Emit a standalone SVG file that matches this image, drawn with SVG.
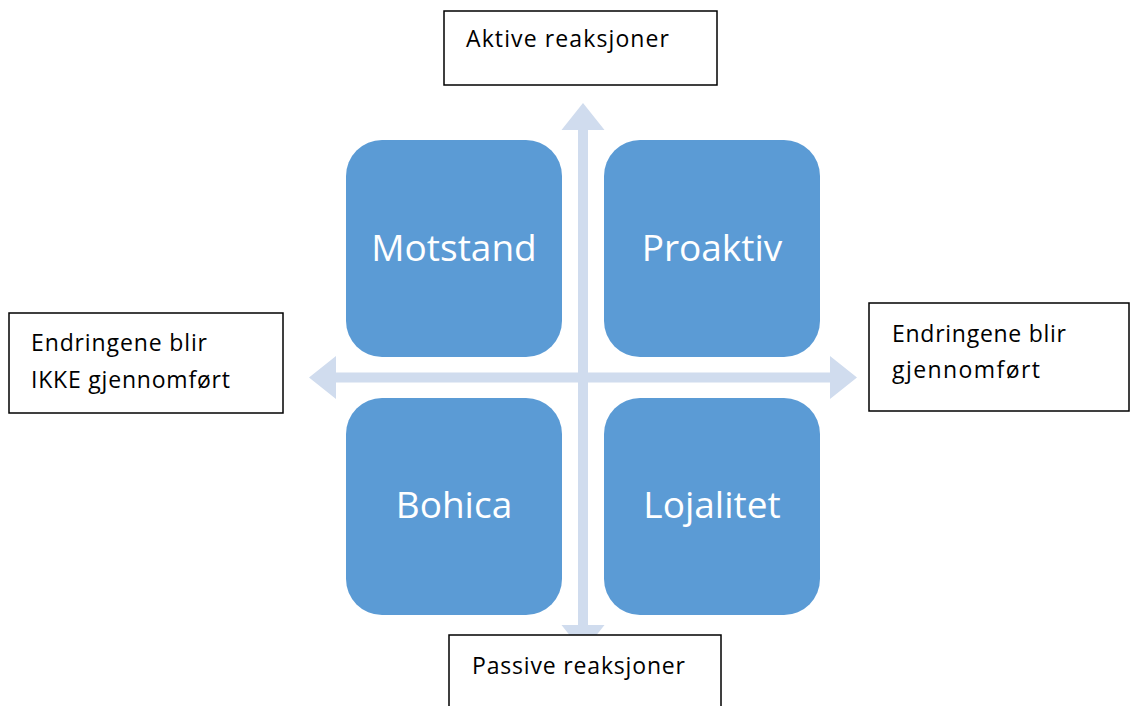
<svg xmlns="http://www.w3.org/2000/svg" width="1131" height="706" viewBox="0 0 1131 706">
  <style>
    .quad { fill: #5B9BD5; }
    .quad-label { font-family: "Open Sans", "Liberation Sans", sans-serif; font-size: 37px; fill: #FFFFFF; text-anchor: middle; }
    .note { fill: #FFFFFF; stroke: #000000; stroke-width: 1.5; }
    .note-text { font-family: "Open Sans", "Liberation Sans", sans-serif; font-size: 23px; fill: #000000; }
    .axis { fill: #D0DCEE; }
  </style>
  <rect width="1131" height="706" fill="#FFFFFF"/>

  <!-- Axes: a double-headed vertical and horizontal arrow crossing at the centre -->
  <g id="connectors">
    <path class="axis" d="M583,103 L604.5,130 L588,130 L588,625 L604.5,625 L583,652 L561.5,625 L578,625 L578,130 L561.5,130 Z"/>
    <path class="axis" d="M309,377.5 L336,356 L336,372.5 L830,372.5 L830,356 L857,377.5 L830,399 L830,382.5 L336,382.5 L336,399 Z"/>
  </g>

  <!-- Quadrants -->
  <g id="motstand">
    <rect class="quad" x="346" y="140" width="216" height="217" rx="36" ry="36"/>
    <text class="quad-label" x="454" y="261">Motstand</text>
  </g>
  <g id="proaktiv">
    <rect class="quad" x="604" y="140" width="216" height="217" rx="36" ry="36"/>
    <text class="quad-label" x="712" y="261">Proaktiv</text>
  </g>
  <g id="bohica">
    <rect class="quad" x="346" y="398" width="216" height="217" rx="36" ry="36"/>
    <text class="quad-label" x="454" y="518">Bohica</text>
  </g>
  <g id="lojalitet">
    <rect class="quad" x="604" y="398" width="216" height="217" rx="36" ry="36"/>
    <text class="quad-label" x="712" y="518">Lojalitet</text>
  </g>

  <!-- Axis end labels -->
  <g id="aktive">
    <rect class="note" x="444" y="11" width="273" height="74"/>
    <text class="note-text" x="466" y="47" textLength="203" lengthAdjust="spacing">Aktive  reaksjoner</text>
  </g>
  <g id="passive">
    <rect class="note" x="449" y="635" width="272" height="80"/>
    <text class="note-text" x="472" y="674" textLength="213" lengthAdjust="spacing">Passive reaksjoner</text>
  </g>
  <g id="ikke-gjennomfort">
    <rect class="note" x="9" y="313" width="274" height="100"/>
    <text class="note-text" x="31" y="351" textLength="176" lengthAdjust="spacing">Endringene  blir</text>
    <text class="note-text" x="31" y="388" textLength="199" lengthAdjust="spacing">IKKE gjennomført</text>
  </g>
  <g id="gjennomfort">
    <rect class="note" x="869" y="303" width="260" height="108"/>
    <text class="note-text" x="892" y="342" textLength="174" lengthAdjust="spacing">Endringene  blir</text>
    <text class="note-text" x="892" y="378" textLength="148" lengthAdjust="spacing">gjennomført</text>
  </g>
</svg>
